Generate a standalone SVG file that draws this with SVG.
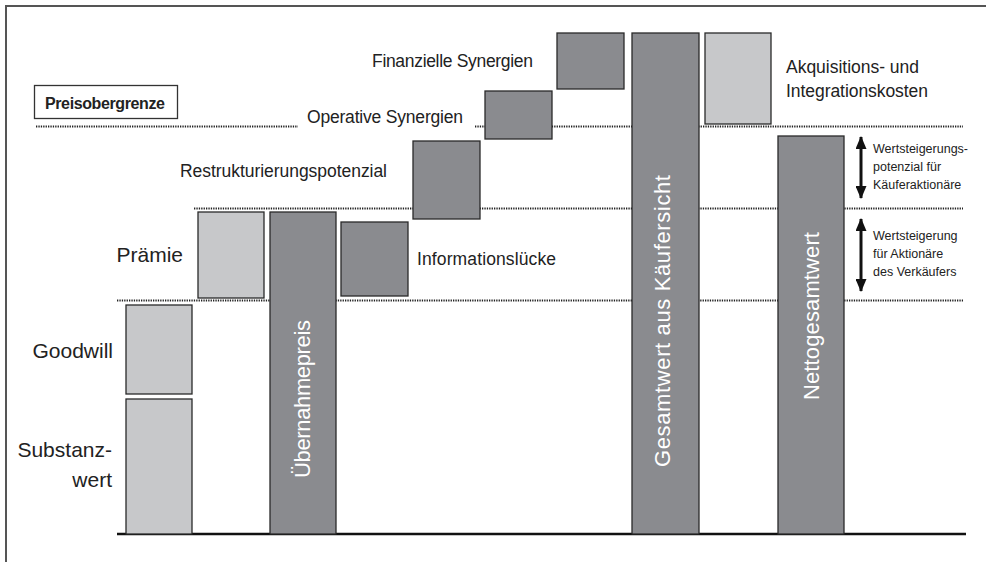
<svg xmlns="http://www.w3.org/2000/svg" width="986" height="562" viewBox="0 0 986 562">
<defs>
<style>
.t{font-family:"Liberation Sans",Arial,sans-serif;fill:#222;}
.dk{fill:#8a8b8f;stroke:#2a2a2a;stroke-width:1.3;}
.lt{fill:#c7c8ca;stroke:#2a2a2a;stroke-width:1.3;}
.dot{stroke:#222;stroke-width:1.8;stroke-dasharray:1.3 1.1;fill:none;}
.vt{font-family:"Liberation Sans",Arial,sans-serif;fill:#fff;font-size:22px;text-anchor:middle;}
.arr{stroke:#111;stroke-width:3;fill:none;}
</style>
<marker id="ah" markerWidth="13" markerHeight="11" refX="12" refY="5.5" orient="auto-start-reverse" markerUnits="userSpaceOnUse" viewBox="0 0 13 11">
<path d="M0,0 L13,5.5 L0,11 Z" fill="#111"/>
</marker>
</defs>
<rect x="0" y="0" width="986" height="562" fill="#fff"/>
<path d="M6,562 L6,6 L986,6" fill="none" stroke="#555" stroke-width="2"/>

<g id="connectors">
<line class="dot" x1="36" y1="126.5" x2="298" y2="126.5"/>
<line class="dot" x1="475" y1="126.5" x2="963" y2="126.5"/>
<line class="dot" x1="194" y1="208.5" x2="963" y2="208.5"/>
<line class="dot" x1="117" y1="300.5" x2="963" y2="300.5"/>
<line x1="117" y1="534" x2="966" y2="534" stroke="#111" stroke-width="2.5"/>
<line class="arr" x1="861" y1="137" x2="861" y2="198" marker-start="url(#ah)" marker-end="url(#ah)"/>
<line class="arr" x1="861" y1="219" x2="861" y2="291" marker-start="url(#ah)" marker-end="url(#ah)"/>
</g>

<g id="preisobergrenze">
<rect x="34.5" y="85.5" width="143" height="33" fill="#fff" stroke="#333" stroke-width="1.3"/>
<text class="t" x="45" y="109" font-size="16" font-weight="bold" textLength="120">Preisobergrenze</text>
</g>

<g id="substanzwert">
<rect class="lt" x="126" y="399" width="66" height="135"/>
<text class="t" x="112" y="457" font-size="21" text-anchor="end">Substanz-</text>
<text class="t" x="112" y="487" font-size="21" text-anchor="end">wert</text>
</g>

<g id="goodwill">
<rect class="lt" x="126" y="305" width="66" height="89"/>
<text class="t" x="113" y="358" font-size="21" text-anchor="end">Goodwill</text>
</g>

<g id="praemie">
<rect class="lt" x="198" y="212" width="66" height="86"/>
<text class="t" x="183" y="262" font-size="21" text-anchor="end">Prämie</text>
</g>

<g id="uebernahmepreis">
<rect class="dk" x="270" y="212" width="66" height="322"/>
<text class="vt" transform="translate(310,399) rotate(-90)" textLength="158">Übernahmepreis</text>
</g>

<g id="informationsluecke">
<rect class="dk" x="341" y="222" width="67" height="74"/>
<text class="t" x="417" y="265" font-size="17.5" textLength="139">Informationslücke</text>
</g>

<g id="restrukturierung">
<rect class="dk" x="413" y="141" width="67" height="78"/>
<text class="t" x="180" y="177" font-size="17.5" textLength="207">Restrukturierungspotenzial</text>
</g>

<g id="operative">
<rect class="dk" x="485" y="91" width="67" height="48"/>
<text class="t" x="307" y="123" font-size="17.5" textLength="156">Operative Synergien</text>
</g>

<g id="finanzielle">
<rect class="dk" x="557" y="33" width="67" height="56"/>
<text class="t" x="372" y="67" font-size="17.5" textLength="161">Finanzielle Synergien</text>
</g>

<g id="gesamtwert">
<rect class="dk" x="632" y="33" width="67" height="501"/>
<text class="vt" transform="translate(670,321) rotate(-90)" textLength="292">Gesamtwert aus Käufersicht</text>
</g>

<g id="akquisition">
<rect class="lt" x="705" y="33" width="66" height="91"/>
<text class="t" x="786" y="73" font-size="17.5" textLength="133">Akquisitions- und</text>
<text class="t" x="786" y="97" font-size="17.5" textLength="142">Integrationskosten</text>
</g>

<g id="nettogesamtwert">
<rect class="dk" x="778" y="136" width="66" height="398"/>
<text class="vt" transform="translate(819,316) rotate(-90)" textLength="168">Nettogesamtwert</text>
</g>

<g id="wertsteigerung-kaeufer">
<text class="t" x="873" y="153" font-size="12.5" textLength="95">Wertsteigerungs-</text>
<text class="t" x="873" y="171" font-size="12.5">potenzial für</text>
<text class="t" x="873" y="189" font-size="12.5">Käuferaktionäre</text>
</g>

<g id="wertsteigerung-verkaeufer">
<text class="t" x="873" y="240" font-size="12.5">Wertsteigerung</text>
<text class="t" x="873" y="258" font-size="12.5">für Aktionäre</text>
<text class="t" x="873" y="276" font-size="12.5">des Verkäufers</text>
</g>
</svg>
